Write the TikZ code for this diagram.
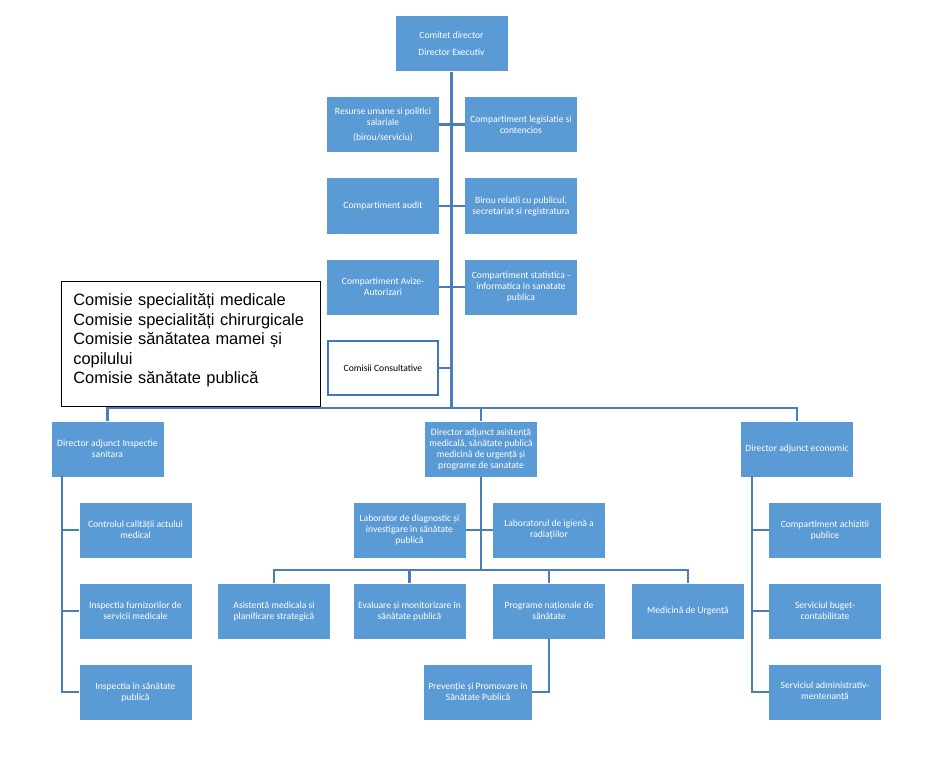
\documentclass[tikz,border=0pt]{standalone}
\usepackage{fontspec}
\setmainfont{Carlito}
\newfontfamily\arialfont{Liberation Sans}
\usepackage{tikz}
\usetikzlibrary{calc}

\definecolor{unitblue}{HTML}{5B9BD5}
\definecolor{linkblue}{HTML}{4A7EBB}
\definecolor{frameblue}{HTML}{4472C4}

\tikzset{
    unit/.style={rectangle, fill=unitblue, text=white, minimum width=112pt, minimum height=55pt,
        inner sep=1pt, align=center, font=\fontsize{9.6}{11}\selectfont},
    council/.style={unit, fill=white, draw=frameblue, line width=1.6pt, text=black,
        minimum width=110pt, minimum height=54pt},
    link/.style={draw=linkblue, line width=2.2pt}
}

\begin{document}
\begin{tikzpicture}[x=1pt,y=-1pt]
    \useasboundingbox (0,0) rectangle (934,762);
    % conducere si compartimente
    \node[unit] (cd) at (451.5,44) {Comitet director\\[6pt]Director Executiv};
    \node[unit] (res) at (383,124.5) {Resurse umane si politici\\salariale\\[4pt](birou/serviciu)};
    \node[unit] (leg) at (521,124.5) {Compartiment legislatie si\\contencios};
    \node[unit] (aud) at (383,206) {Compartiment audit};
    \node[unit] (bir) at (521,206) {Birou relatii cu publicul,\\secretariat si registratura};
    \node[unit] (avz) at (383,287) {Compartiment Avize-\\Autorizari};
    \node[unit] (sta) at (521,287) {Compartiment statistica -\\informatica in sanatate\\publica};
    \node[council] (com) at (383,368) {Comisii Consultative};
    \node[draw, fill=white, line width=0.8pt, anchor=north west, minimum width=259pt, minimum height=125pt,
        text width=235pt, inner xsep=12pt, align=left,
        font=\arialfont\fontsize{16.4}{19.5}\selectfont] (cms) at (61,281)
        {Comisie specialități medicale\\Comisie specialități chirurgicale\\Comisie sănătatea mamei și\\copilului\\Comisie sănătate publică\\[-9.5pt]\mbox{}};
    % directori adjuncti
    \node[unit] (ins) at (107.5,449) {Director adjunct Inspectie\\sanitara};
    \node[unit] (asi) at (481,449) {Director adjunct asistență\\medicală, sănătate publică\\medicină de urgență și\\programe de sanatate};
    \node[unit] (eco) at (797,449) {Director adjunct economic};
    % inspectie
    \node[unit] (ctl) at (135.5,530) {Controlul calității actului\\medical};
    \node[unit] (fur) at (135.5,611) {Inspectia furnizorilor de\\servicii medicale};
    \node[unit] (isp) at (135.5,692) {Inspectia în sănătate\\publică};
    % asistenta medicala
    \node[unit] (lbd) at (409.5,530) {Laborator de diagnostic și\\investigare în sănătate\\publică};
    \node[unit] (lbi) at (549,530) {Laboratorul de igienă a\\radiațiilor};
    \node[unit] (asm) at (274,611) {Asistentă medicala si\\planificare strategică};
    \node[unit] (evl) at (409.5,611) {Evaluare și monitorizare în\\sănătate publică};
    \node[unit] (prg) at (549,611) {Programe naționale de\\sănătate};
    \node[unit] (med) at (688,611) {Medicină de Urgență};
    \node[unit, minimum width=108pt] (prv) at (478,692) {Prevenție și Promovare în\\Sănătate Publică};
    % economic
    \node[unit] (ach) at (825,530) {Compartiment achizitii\\publice};
    \node[unit] (bug) at (825,611) {Serviciul buget-\\contabilitate};
    \node[unit] (adm) at (825,692) {Serviciul administrativ-\\mentenanță};

    \coordinate (bus) at (452,408);
    \coordinate (lft) at (62,476);
    \coordinate (rgt) at (752,476);
    \coordinate (mid) at (481,570);

    \draw[link] (cd.south) -- (cd.south |- bus);
    \draw[link] (res.east) -- (leg.west);
    \draw[link] (aud.east) -- (bir.west);
    \draw[link] (avz.east) -- (sta.west);
    \draw[link] (com.east) -- (com.east -| bus);
    \draw[link] (ins.north) |- (bus) -| (eco.north);
    \draw[link] (asi.north) -- (asi.north |- bus);

    \draw[link] (lft) |- (ctl.west);
    \draw[link] (lft) |- (fur.west);
    \draw[link] (lft) |- (isp.west);

    \draw[link] (rgt) |- (ach.west);
    \draw[link] (rgt) |- (bug.west);
    \draw[link] (rgt) |- (adm.west);

    \draw[link] (asi.south) -- (mid);
    \draw[link] (lbd.east) -- (lbi.west);
    \draw[link] (asm.north) |- (mid) -| (med.north);
    \draw[link] (evl.north) -- (evl.north |- mid);
    \draw[link] (prg.north) -- (prg.north |- mid);
    \draw[link] (prg.south) |- (prv.east);
\end{tikzpicture}
\end{document}
